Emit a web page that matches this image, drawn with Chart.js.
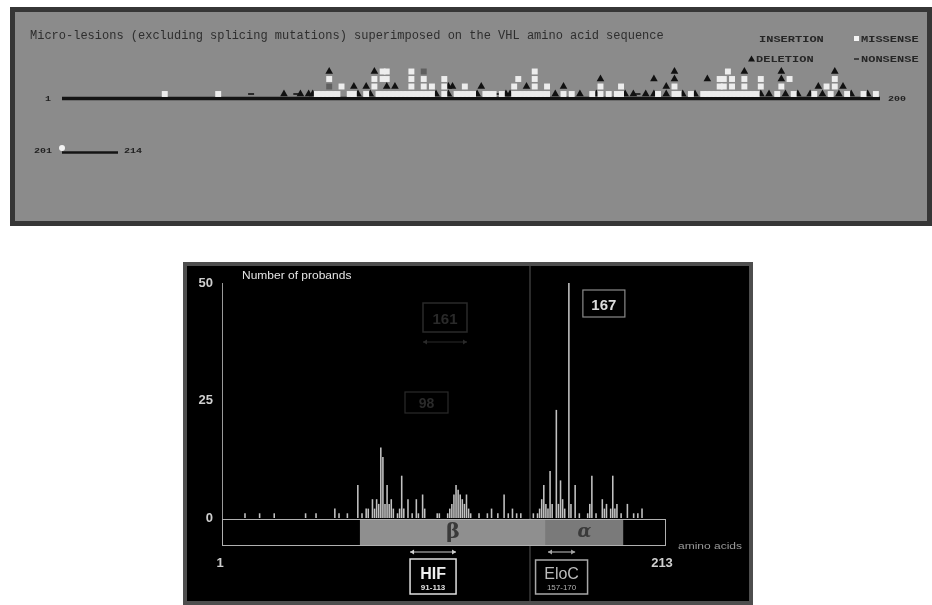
<!DOCTYPE html>
<html><head><meta charset="utf-8">
<script src="https://cdn.jsdelivr.net/npm/chart.js@4.4.1/dist/chart.umd.min.js"></script>
<style>
html,body{margin:0;padding:0;background:#fff;width:932px;height:605px;overflow:hidden;}
canvas{position:absolute;}
#top{left:0;top:0;}
#row2{left:0;top:110px;}
#hist{left:183px;top:262px;}
</style></head><body>
<canvas id="top" width="932" height="230"></canvas>
<canvas id="row2" width="932" height="60"></canvas>
<canvas id="hist" width="570" height="343"></canvas>
<script>
// ---------- Top panel data: amino-acid positions of micro-lesions per stack row ----------
const topTitle = 'Micro-lesions (excluding splicing mutations) superimposed on the VHL amino acid sequence';
const missenseRow0 = [26, 39, 63, 64, 65, 66, 67, 68, 71, 72, 75, 78, 79, 80, 81, 82, 83, 84, 85, 86, 87, 88, 89, 90, 91, 94, 97, 98, 99, 100, 101, 104, 105, 106, 108, 111, 112, 113, 114, 115, 116, 117, 118, 119, 123, 125, 130, 132, 134, 136, 137, 146, 150, 151, 154, 157, 158, 159, 160, 161, 162, 163, 164, 165, 166, 167, 168, 169, 170, 175, 179, 184, 188, 192, 196, 199];
const missenseRow1 = [69, 77, 86, 89, 91, 94, 99, 111, 116, 119, 132, 137, 150, 161, 162, 164, 167, 171, 176, 187, 189];
const missenseRow2 = [66, 77, 79, 80, 86, 89, 94, 112, 116, 161, 162, 164, 167, 171, 178, 189];
const missenseRow3 = [79, 80, 86, 116, 163];
const deletionRow0 = [55, 59, 61, 62, 73, 76, 92, 95, 102, 109, 110, 121, 127, 131, 138, 140, 143, 145, 148, 152, 155, 171, 173, 177, 180, 183, 186, 190, 193, 197];
const deletionRow1 = [72, 75, 80, 82, 95, 96, 103, 114, 123, 148, 185, 191];
const deletionRow2 = [132, 145, 150, 158, 176];
const deletionRow3 = [66, 77, 150, 167, 176, 189];
const insertionRow1 = [66];
const insertionRow3 = [89];
const nonsenseRow0 = [47, 58, 107, 141];
const seqStart = 1, seqBreak = 200, seqEnd = 214;
const missenseRow0Tail = [201];

// ---------- Bottom panel data: number of probands per codon ----------
const codons = [12, 19, 26, 41, 46, 55, 57, 61, 66, 68, 70, 71, 73, 74, 75, 76, 77, 78, 79, 80, 81, 82, 83, 85, 86, 87, 88, 90, 92, 94, 95, 97, 98, 104, 105, 109, 110, 111, 112, 113, 114, 115, 116, 117, 118, 119, 120, 124, 128, 130, 133, 136, 138, 140, 142, 144, 150, 152, 153, 154, 155, 156, 157, 158, 159, 161, 162, 163, 164, 165, 167, 168, 170, 172, 176, 177, 178, 180, 183, 184, 185, 187, 188, 189, 190, 192, 195, 198, 200, 202];
const probands = [1, 1, 1, 1, 1, 2, 1, 1, 7, 1, 2, 2, 4, 2, 4, 3, 15, 13, 3, 7, 3, 4, 2, 1, 2, 9, 2, 4, 1, 4, 1, 5, 2, 1, 1, 1, 2, 3, 5, 7, 6, 5, 4, 3, 5, 2, 1, 1, 1, 2, 1, 5, 1, 2, 1, 1, 1, 1, 2, 4, 7, 3, 2, 10, 3, 23, 3, 8, 4, 2, 50, 3, 7, 1, 1, 3, 9, 1, 4, 2, 3, 2, 9, 2, 3, 1, 3, 1, 1, 2];
const proteinLength = 213;
const yTicks = [0, 25, 50];
const betaDomain = [67, 156];   // boundaries in residue units
const alphaDomain = [156, 193];
const hifSite = [91, 113];
const elocSite = [157, 170];
const labelledCodon = 167;

// ---------- helpers ----------
function pts(list, lvl){ return list.map(a => ({x:a, y:lvl})); }
function txt(c, s, x, y, font, color, align, sy){
  c.save(); c.font = font; c.fillStyle = color; c.textAlign = align || 'left'; c.textBaseline = 'alphabetic';
  c.translate(x, y); c.scale(1, sy || 1); c.fillText(s, 0, 0); c.restore();
}
const mono = '"Liberation Mono", "DejaVu Sans Mono", monospace';
const sans = '"Liberation Sans", Arial, sans-serif';

// ---------- top chart ----------
const topPlugin = {
  id: 'topPanel',
  beforeDraw(chart){
    const c = chart.ctx; c.save();
    c.fillStyle = '#8b8b8b'; c.fillRect(10, 7, 922, 219);
    c.strokeStyle = '#363636'; c.lineWidth = 5; c.strokeRect(12.5, 9.5, 917, 214);
    c.restore();
  },
  beforeDatasetsDraw(chart){
    const c = chart.ctx, xs = chart.scales.x, ys = chart.scales.y;
    c.save(); c.strokeStyle = '#141414'; c.lineWidth = 3.5;
    const y = ys.getPixelForValue(-0.6);
    c.beginPath(); c.moveTo(xs.getPixelForValue(seqStart), y); c.lineTo(xs.getPixelForValue(seqBreak), y); c.stroke();
    c.restore();
  },
  afterDraw(chart){
    const c = chart.ctx, xs = chart.scales.x, ys = chart.scales.y;
    txt(c, topTitle, 30, 39, '12px ' + mono, '#2e2e2e');
    const lf = 'bold 12px ' + mono;
    txt(c, 'INSERTION', 759, 42, lf, '#262626', 'left', 0.72);
    c.save(); c.fillStyle = '#f4f4f4'; c.fillRect(854, 36, 5, 5); c.restore();
    txt(c, 'MISSENSE', 861, 42, lf, '#262626', 'left', 0.72);
    c.save(); c.fillStyle = '#111'; c.beginPath(); c.moveTo(751.5, 55.5); c.lineTo(755, 61.5); c.lineTo(748, 61.5); c.closePath(); c.fill(); c.restore();
    txt(c, 'DELETION', 756, 62, lf, '#262626', 'left', 0.72);
    c.save(); c.strokeStyle = '#262626'; c.lineWidth = 1.5; c.beginPath(); c.moveTo(854, 59); c.lineTo(859, 59); c.stroke(); c.restore();
    txt(c, 'NONSENSE', 861, 62, lf, '#262626', 'left', 0.72);
    const y = ys.getPixelForValue(-0.6) + 2;
    txt(c, String(seqStart), xs.getPixelForValue(seqStart) - 11, y, 'bold 10px ' + mono, '#222', 'right', 0.8);
    txt(c, String(seqBreak), xs.getPixelForValue(seqBreak) + 8, y, 'bold 10px ' + mono, '#222', 'left', 0.8);
  }
};

new Chart(document.getElementById('top'), {
  type: 'scatter',
  data: { datasets: [
    { label: 'MISSENSE', data: [].concat(pts(missenseRow0,0), pts(missenseRow1,1), pts(missenseRow2,2), pts(missenseRow3,3)),
      pointStyle: 'rect', pointRadius: 4.2, backgroundColor: '#ededed', borderWidth: 0, clip: false },
    { label: 'INSERTION', data: [].concat(pts(insertionRow1,1), pts(insertionRow3,3)),
      pointStyle: 'rect', pointRadius: 4.2, backgroundColor: '#5f5f5f', borderWidth: 0, clip: false },
    { label: 'DELETION', data: [].concat(pts(deletionRow0,0), pts(deletionRow1,1), pts(deletionRow2,2), pts(deletionRow3,3)),
      pointStyle: 'triangle', pointRadius: 4.4, backgroundColor: '#111', borderWidth: 0, clip: false },
    { label: 'NONSENSE', data: pts(nonsenseRow0,0),
      pointStyle: 'line', pointRadius: 3, borderColor: '#2a2a2a', borderWidth: 2, clip: false }
  ]},
  options: {
    animation: false, responsive: false, events: [],
    layout: { padding: { left: 62, right: 52, top: 67.75, bottom: 132.25 } },
    plugins: { legend: { display: false }, tooltip: { enabled: false } },
    scales: { x: { type: 'linear', min: seqStart, max: seqBreak, display: false },
              y: { min: -0.5, max: 3.5, display: false } }
  },
  plugins: [topPlugin]
});

// ---------- second sequence row (201-214) ----------
const row2Plugin = {
  id: 'row2',
  beforeDatasetsDraw(chart){
    const c = chart.ctx, xs = chart.scales.x, ys = chart.scales.y;
    const y = ys.getPixelForValue(-0.6);
    c.save(); c.strokeStyle = '#141414'; c.lineWidth = 2.5;
    c.beginPath(); c.moveTo(xs.getPixelForValue(seqBreak + 1), y); c.lineTo(xs.getPixelForValue(seqEnd), y); c.stroke(); c.restore();
    txt(c, String(seqBreak + 1), xs.getPixelForValue(seqBreak + 1) - 10, y, 'bold 10px ' + mono, '#222', 'right', 0.8);
    txt(c, String(seqEnd), xs.getPixelForValue(seqEnd) + 6, y, 'bold 10px ' + mono, '#222', 'left', 0.8);
  }
};
new Chart(document.getElementById('row2'), {
  type: 'scatter',
  data: { datasets: [
    { label: 'MISSENSE', data: pts(missenseRow0Tail, 0), pointStyle: 'circle', pointRadius: 3, backgroundColor: '#f3f3f3', borderWidth: 0, clip: false }
  ]},
  options: {
    animation: false, responsive: false, events: [],
    layout: { padding: { left: 62, right: 814, top: 11.75, bottom: 18.25 } },
    plugins: { legend: { display: false }, tooltip: { enabled: false } },
    scales: { x: { type: 'linear', min: seqBreak + 1, max: seqEnd, display: false },
              y: { min: -0.5, max: 3.5, display: false } }
  },
  plugins: [row2Plugin]
});

// ---------- histogram ----------
const aaLabels = Array.from({length: proteinLength}, (_, i) => String(i + 1));
const counts = aaLabels.map(l => { const k = codons.indexOf(Number(l)); return k >= 0 ? probands[k] : 0; });

function arrow(c, x1, x2, y, col){
  c.save(); c.strokeStyle = col; c.fillStyle = col; c.lineWidth = 1.2;
  c.beginPath(); c.moveTo(x1, y); c.lineTo(x2, y); c.stroke();
  c.beginPath(); c.moveTo(x1, y); c.lineTo(x1 + 4, y - 2.5); c.lineTo(x1 + 4, y + 2.5); c.closePath(); c.fill();
  c.beginPath(); c.moveTo(x2, y); c.lineTo(x2 - 4, y - 2.5); c.lineTo(x2 - 4, y + 2.5); c.closePath(); c.fill();
  c.restore();
}
function box(c, x, y, w, h, col, lw){ c.save(); c.strokeStyle = col; c.lineWidth = lw || 1; c.strokeRect(x, y, w, h); c.restore(); }

const histPlugin = {
  id: 'histDeco',
  beforeDraw(chart){
    const c = chart.ctx; c.save();
    c.fillStyle = '#000'; c.fillRect(0, 0, 570, 343);
    c.strokeStyle = '#4e4e4e'; c.lineWidth = 4; c.strokeRect(2, 2, 566, 339);
    c.strokeStyle = '#3a3a3a'; c.lineWidth = 1.5; c.beginPath(); c.moveTo(347, 4); c.lineTo(347, 339); c.stroke();
    c.restore();
    // faded labels
    const fc = '#2a2a2a';
    box(c, 240, 41, 44, 29, fc, 1.5);
    txt(c, '161', 262, 62, 'bold 15px ' + sans, fc, 'center');
    arrow(c, 240, 284, 80, fc);
    box(c, 222, 130, 43, 21, fc, 1.2);
    txt(c, '98', 243.5, 146, 'bold 14px ' + sans, fc, 'center');
  },
  afterDraw(chart){
    const c = chart.ctx, xs = chart.scales.x;
    const px = aa => xs.getPixelForValue(aa - 1);
    txt(c, 'Number of probands', 59, 17, '12px ' + sans, '#e4e4e4', 'left', 0.85);
    // domain bar
    const top = 257, h = 26;
    c.save();
    c.fillStyle = '#8f8f8f'; c.fillRect(px(betaDomain[0]), top, px(betaDomain[1]) - px(betaDomain[0]), h);
    c.fillStyle = '#7a7a7a'; c.fillRect(px(alphaDomain[0]), top, px(alphaDomain[1]) - px(alphaDomain[0]), h);
    c.strokeStyle = '#b0b0b0'; c.lineWidth = 1; c.strokeRect(px(1) + 0.5, top + 0.5, px(proteinLength) - px(1), h);
    c.restore();
    c.save(); c.textBaseline = 'middle'; c.textAlign = 'center'; c.fillStyle = '#3a3a3a';
    c.font = 'bold 21px "DejaVu Serif", serif'; c.fillText('β', (px(betaDomain[0]) + px(betaDomain[1])) / 2, top + h / 2 + 1);
    c.font = 'italic bold 18px "DejaVu Serif", serif'; c.fillText('α', (px(alphaDomain[0]) + px(alphaDomain[1])) / 2, top + h / 2);
    c.restore();
    // binding sites
    arrow(c, px(hifSite[0]), px(hifSite[1]), 290, '#d0d0d0');
    arrow(c, px(elocSite[0]), px(elocSite[1]), 290, '#a5a5a5');
    const hc = (px(hifSite[0]) + px(hifSite[1])) / 2;
    box(c, hc - 23, 297, 46, 35, '#e0e0e0', 1.5);
    txt(c, 'HIF', hc, 317, 'bold 16px ' + sans, '#f0f0f0', 'center');
    txt(c, hifSite.join('-'), hc, 328, 'bold 8px ' + sans, '#e0e0e0', 'center');
    const ec = (px(elocSite[0]) + px(elocSite[1])) / 2;
    box(c, ec - 26, 298, 52, 34, '#a8a8a8', 1.5);
    txt(c, 'EloC', ec, 317, '16px ' + sans, '#bdbdbd', 'center');
    txt(c, elocSite.join('-'), ec, 328, '8px ' + sans, '#b0b0b0', 'center');
    // axis labels
    txt(c, 'amino acids', 495, 287, '12px ' + sans, '#9a9a9a', 'left', 0.75);
    txt(c, '1', px(1) - 2, 305, 'bold 13px ' + sans, '#cfcfcf', 'center');
    txt(c, String(proteinLength), px(proteinLength) - 3, 305, 'bold 13px ' + sans, '#cfcfcf', 'center');
    // 167 label
    const lx = px(labelledCodon) + 14;
    box(c, lx, 28, 42, 27, '#8a8a8a', 1.2);
    txt(c, String(labelledCodon), lx + 21, 48, 'bold 15px ' + sans, '#dcdcdc', 'center');
  }
};

new Chart(document.getElementById('hist'), {
  type: 'bar',
  data: { labels: aaLabels, datasets: [{ data: counts, backgroundColor: '#c2c2c2', barPercentage: 0.75, categoryPercentage: 1 }] },
  options: {
    animation: false, responsive: false, events: [],
    layout: { padding: { left: 0, right: 88, top: 21, bottom: 87 } },
    plugins: { legend: { display: false }, tooltip: { enabled: false } },
    scales: {
      x: { offset: false, display: false, grid: { offset: false } },
      y: { min: 0, max: 50,
           afterBuildTicks(s){ s.ticks = yTicks.map(v => ({value: v})); },
           ticks: { color: '#cfcfcf', font: { size: 13, weight: 'bold', family: 'Liberation Sans' }, padding: 9 },
           grid: { display: false, drawTicks: false },
           border: { display: true, color: '#9a9a9a', width: 1 },
           afterFit(s){ s.width = 39; } }
    }
  },
  plugins: [histPlugin]
});
</script>
</body></html>
